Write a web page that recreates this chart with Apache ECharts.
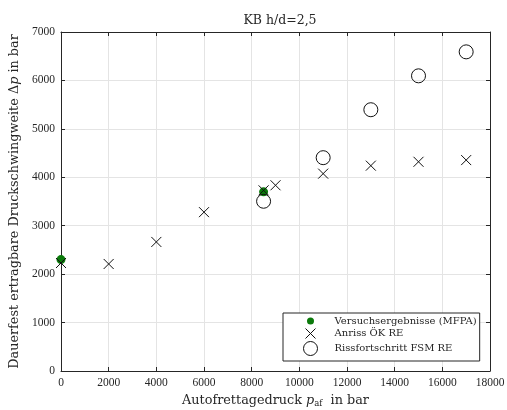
<!DOCTYPE html>
<html>
<head>
<meta charset="UTF-8"/>
<script src="https://cdn.jsdelivr.net/npm/echarts@6/dist/echarts.min.js"></script>
<title>KB h/d=2,5</title>
<style>
  html, body { margin: 0; padding: 0; background: #fff; }
  #main { width: 507px; height: 410px; }
</style>
</head>
<body>
<div id="main"></div>
<script type="text/javascript">
    // Messdaten / Rechenergebnisse
    var mfpaX = [0, 8500]
    var mfpaY = [2300, 3700]

    var anrissX = [0, 2000, 4000, 6000, 8500, 9000, 11000, 13000, 15000, 17000]
    var anrissY = [2230, 2210, 2665, 3280, 3730, 3835, 4075, 4240, 4320, 4355]

    var fsmX = [8500, 11000, 13000, 15000, 17000]
    var fsmY = [3505, 4405, 5395, 6095, 6590]

    var xTicks = [0, 2000, 4000, 6000, 8000, 10000, 12000, 14000, 16000, 18000]
    var yTicks = [0, 1000, 2000, 3000, 4000, 5000, 6000, 7000]

    var names = ['Versuchsergebnisse (MFPA)', 'Anriss ÖK RE', 'Rissfortschritt FSM RE']
    var crossPath = 'path://M0,0L10,10M10,0L0,10'
    // legend icons padded to a 14x14 box so they keep the marker sizes
    var crossIcon = 'path://M0,0L0,0M14,14L14,14M2,2L12,12M12,2L2,12'
    var dotIcon = 'path://M0,0M14,14M3.5,7A3.5,3.5,0,1,1,10.5,7A3.5,3.5,0,1,1,3.5,7Z'
    var numFont = '"Liberation Serif", serif'
    var font = '"DejaVu Serif", serif'
    var ink = '#262626'

    function pairs(xs, ys) {
        var out = []
        for (var i = 0; i < xs.length; i++) out.push([xs[i], ys[i]])
        return out
    }

    function axisBase(ticks) {
        return {
            type: 'value',
            min: ticks[0],
            max: ticks[ticks.length - 1],
            interval: ticks[1] - ticks[0],
            axisLine: {onZero: false, lineStyle: {color: ink, width: 1}},
            axisTick: {inside: true, length: 4, lineStyle: {color: ink}}
        }
    }

    var x0 = axisBase(xTicks), x1 = axisBase(xTicks)
    var y0 = axisBase(yTicks), y1 = axisBase(yTicks)

    Object.assign(x0, {
        position: 'bottom',
        name: 'Autofrettagedruck {i|p}{s|af} in bar',
        nameLocation: 'middle',
        nameGap: 19,
        nameTextStyle: {
            fontFamily: font, fontSize: 12.8, color: ink,
            rich: {
                i: {fontFamily: font, fontStyle: 'italic', fontSize: 12.8, color: ink},
                s: {fontFamily: font, fontSize: 8.5, color: ink, padding: [7, 4, 0, 0]}
            }
        },
        axisLabel: {fontFamily: numFont, fontSize: 11.5, color: ink, margin: 6,
            formatter: function (v) { return String(v) }},
        splitLine: {show: true, lineStyle: {color: '#e4e4e4', width: 1}}
    })
    Object.assign(x1, {
        position: 'top',
        axisLabel: {show: false},
        splitLine: {show: false}
    })
    Object.assign(y0, {
        position: 'left',
        name: 'Dauerfest ertragbare Druckschwingweite Δ{i|p} in bar',
        nameLocation: 'middle',
        nameGap: 40,
        nameTextStyle: {
            fontFamily: font, fontSize: 12.8, color: ink,
            rich: {
                i: {fontFamily: font, fontStyle: 'italic', fontSize: 12.8, color: ink}
            }
        },
        axisLabel: {fontFamily: numFont, fontSize: 11.5, color: ink, margin: 6,
            formatter: function (v) { return String(v) }},
        splitLine: {show: true, lineStyle: {color: '#e4e4e4', width: 1}}
    })
    Object.assign(y1, {
        position: 'right',
        axisLabel: {show: false},
        splitLine: {show: false}
    })

    var option = {
        animation: false,
        backgroundColor: '#fff',
        title: {
            text: 'KB h/d=2,5',
            left: 275,
            textAlign: 'center',
            top: 9,
            textStyle: {fontFamily: font, fontSize: 12.5, fontWeight: 'normal', color: ink}
        },
        grid: {left: 61, right: 17, top: 32, bottom: 39, outerBoundsMode: 'none'},
        legend: {
            orient: 'vertical',
            left: 283,
            top: 313,
            padding: [1, 3, 3, 18],
            itemGap: -4,
            itemWidth: 14,
            itemHeight: 14,
            backgroundColor: '#fff',
            borderColor: ink,
            borderWidth: 1,
            borderRadius: 0,
            textStyle: {fontFamily: font, fontSize: 10, lineHeight: 12, color: ink, padding: [0, 0, 0, 12]},
            data: [
                {name: names[0], icon: dotIcon, itemStyle: {color: '#0b7a0b', borderWidth: 0}},
                {name: names[1], icon: crossIcon, itemStyle: {color: 'none', borderColor: '#111', borderWidth: 1}},
                {name: names[2], icon: 'circle', itemStyle: {color: 'none', borderColor: '#111', borderWidth: 1}}
            ]
        },
        xAxis: [x0, x1],
        yAxis: [y0, y1],
        series: [
            {
                name: names[0],
                type: 'scatter',
                symbol: 'circle',
                symbolSize: 9,
                itemStyle: {color: '#0b7a0b', opacity: 1},
                data: pairs(mfpaX, mfpaY)
            },
            {
                name: names[1],
                type: 'scatter',
                symbol: crossPath,
                symbolSize: 10,
                itemStyle: {color: 'none', borderColor: '#111', borderWidth: 1, opacity: 1},
                data: pairs(anrissX, anrissY)
            },
            {
                name: names[2],
                type: 'scatter',
                symbol: 'circle',
                symbolSize: 14,
                itemStyle: {color: 'none', borderColor: '#111', borderWidth: 1, opacity: 1},
                data: pairs(fsmX, fsmY)
            }
        ]
    }

    var myChart = echarts.init(document.getElementById('main'))
    myChart.setOption(option)
</script>
</body>
</html>
